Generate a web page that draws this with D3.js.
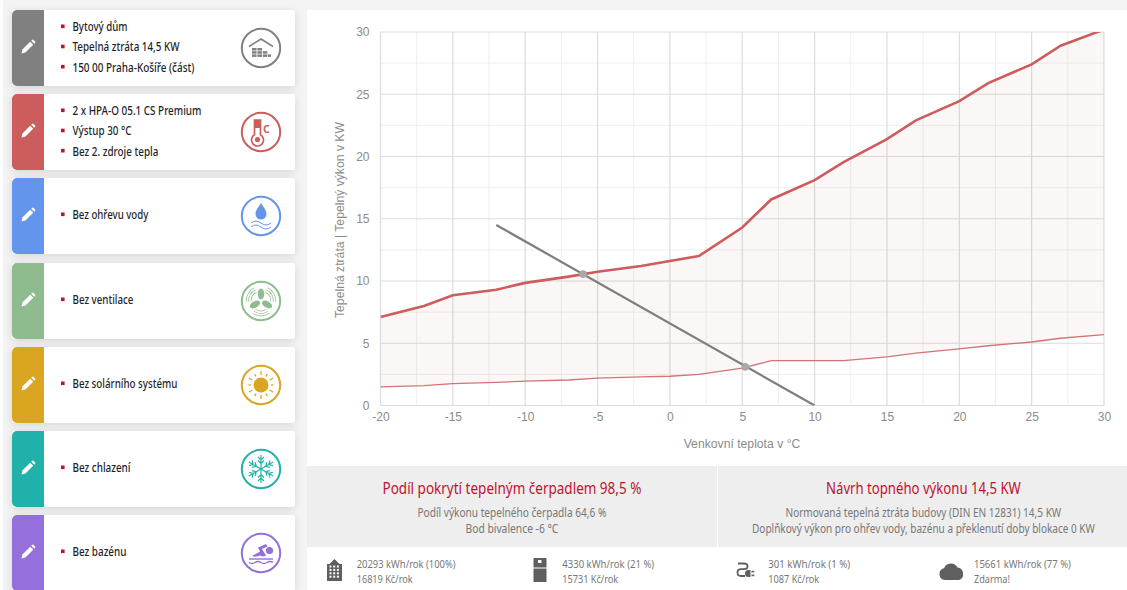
<!DOCTYPE html>
<html lang="cs">
<head>
<meta charset="utf-8">
<title>Tepelná ztráta a výkon</title>
<script src="https://cdn.jsdelivr.net/npm/d3@7/dist/d3.min.js"></script>
<style>
html,body{margin:0;padding:0;background:#fff;overflow:hidden}
svg{display:block}
text{font-family:"Noto Sans",sans-serif}
.tick-label{font-family:"Liberation Sans",Arial,sans-serif}
</style>
</head>
<body>
<svg id="page" width="1127" height="590"></svg>
<script>
// Outdoor temperature breakpoints of the two capacity curves
const temperatures = [-20,-17,-15,-12,-10,-7,-5,-2,0,2,5,7,10,12,15,17,20,22,25,27,30];
// Heat pump output at full and at minimum modulation, kW
const maxOutput = [7.1,8,8.85,9.3,9.85,10.35,10.75,11.2,11.6,12,14.3,16.55,18.1,19.55,21.4,22.9,24.45,25.9,27.4,28.9,30.2];
const minOutput = [1.5,1.6,1.75,1.85,1.95,2.05,2.2,2.3,2.35,2.5,3,3.6,3.6,3.6,3.9,4.2,4.55,4.8,5.1,5.4,5.7];
// Building heat loss line and its two crossing points
const lossTemps = [-12,10];
const lossValues = [14.5,0];
const crossTemps = [-6,5.2];
const crossValues = [10.55,3.1];
const xTicks = [-20,-15,-10,-5,0,5,10,15,20,25,30];
const xMinor = [-17.5,-12.5,-7.5,-2.5,2.5,7.5,12.5,17.5,22.5,27.5];
const yTicks = [0,5,10,15,20,25,30];
const yMinor = [2.5,7.5,12.5,17.5,22.5,27.5];

// Sidebar cards
const cardColors = ["#808080","#cd5c5c","#6495ed","#8fbc8f","#daa520","#20b2aa","#9370db"];
const cardLines = [
  ["Bytový dům","Tepelná ztráta 14,5 KW","150 00 Praha-Košíře (část)"],
  ["2 x HPA-O 05.1 CS Premium","Výstup 30 °C","Bez 2. zdroje tepla"],
  ["Bez ohřevu vody"],["Bez ventilace"],["Bez solárního systému"],["Bez chlazení"],["Bez bazénu"]
];
const cardLineWidths = [[55,107,122],[129,59,86],[76],[61],[105],[58],[54]];

// Summary panels
const summaryTitles = ["Podíl pokrytí tepelným čerpadlem 98,5 %","Návrh topného výkonu 14,5 KW"];
const summaryLines = [
  ["Podíl výkonu tepelného čerpadla 64,6 %","Bod bivalence -6 °C"],
  ["Normovaná tepelná ztráta budovy (DIN EN 12831) 14,5 KW","Doplňkový výkon pro ohřev vody, bazénu a překlenutí doby blokace 0 KW"]
];
const energyLines = [
  ["20293 kWh/rok (100%)","16819 Kč/rok"],
  ["4330 kWh/rok (21 %)","15731 Kč/rok"],
  ["301 kWh/rok (1 %)","1087 Kč/rok"],
  ["15661 kWh/rok (77 %)","Zdarma!"]
];

const svg = d3.select("#page");
svg.append("rect").attr("width",1127).attr("height",590).attr("fill","#f4f4f4");
svg.append("rect").attr("width",3).attr("height",590).attr("fill","#fdfdfd");
const defs = svg.append("defs");
const shadow = defs.append("filter").attr("id","cardShadow").attr("x","-10%").attr("y","-20%").attr("width","120%").attr("height","140%");
shadow.append("feDropShadow").attr("dx",0).attr("dy",2).attr("stdDeviation",4).attr("flood-color","#000").attr("flood-opacity",0.13);

// The UI face is condensed: each label is squeezed horizontally to its set width
function label(g,x,y,str,size,fill,width,anchor,weight){
  const t = g.append("text").attr("font-size",size).attr("fill",fill).text(str);
  if(weight) t.attr("font-weight",weight);
  const natural = t.node().getComputedTextLength();
  const k = width/natural;
  const left = anchor==="middle" ? x-width/2 : x;
  t.attr("transform",`translate(${left},${y}) scale(${k},1)`);
  return t;
}

// ---- Sidebar ----
const cardTop = d => Math.round(10 + d*84.17);
const pencil = "M-6.5 6.5 L-5.6 2.6 L2.2 -5.2 L5.2 -2.2 L-2.6 5.6 Z M3.2 -6.2 L4.4 -7.2 Q5 -7.6 5.6 -7.1 L7.1 -5.6 Q7.6 -5 7.2 -4.4 L6.2 -3.2 Z";

const iconDraw = [
  // house with stepped brick wall
  (g,c)=>{
    g.append("path").attr("d","M-12 -1.5 L0 -9 L12 -1.5").attr("fill","none").attr("stroke",c).attr("stroke-width",1.6);
    [[-9,0,4.6],[-3.6,0,4.6],[-9,3.2,4.6],[-3.6,3.2,4.6],[1.8,3.2,4.6],[-9,6.4,4.6],[-3.6,6.4,4.6],[1.8,6.4,4.6],[7,6.4,3]].forEach(b=>g.append("rect").attr("x",b[0]).attr("y",b[1]).attr("width",b[2]).attr("height",2.5).attr("fill",c));
  },
  // thermometer with degree C
  (g,c)=>{
    g.append("path").attr("d","M-6.5 -12 H-0.5 V2.8 a6 6 0 1 1 -6 0 Z").attr("fill","none").attr("stroke",c).attr("stroke-width",1.7);
    g.append("rect").attr("x",-6.5).attr("y",-12).attr("width",6).attr("height",8).attr("fill",c);
    g.append("circle").attr("cx",-3.5).attr("cy",7.5).attr("r",2.6).attr("fill",c);
    g.append("text").attr("x",2).attr("y",0.5).attr("font-size",10.5).attr("font-weight",700).attr("fill",c).text("C");
  },
  // droplet over waves
  (g,c)=>{
    g.append("path").attr("d","M0 -13 C3 -8 5.5 -5.5 5.5 -2 A5.5 5.5 0 0 1 -5.5 -2 C-5.5 -5.5 -3 -8 0 -13 Z").attr("fill",c);
    ["M-10 7 Q-5 3 0 7 T10 7","M-10 11 Q-5 7 0 11 T10 11"].forEach(d=>g.append("path").attr("d",d).attr("fill","none").attr("stroke",c).attr("stroke-width",1));
  },
  // fan with air arcs
  (g,c)=>{
    [0,120,240].forEach(a=>g.append("ellipse").attr("cx",0).attr("cy",-7).attr("rx",3.2).attr("ry",5.6).attr("transform",`rotate(${a})`).attr("fill",c));
    g.append("circle").attr("r",1.4).attr("fill","#fff");
    [60,180,300].forEach(a=>{
      [9.5,12,14.5].forEach(r=>{
        const arc = d3.arc()({innerRadius:r,outerRadius:r+0.7,startAngle:(a-34)*Math.PI/180,endAngle:(a+34)*Math.PI/180});
        g.append("path").attr("d",arc).attr("fill",c);
      });
    });
  },
  // sun
  (g,c)=>{
    g.append("circle").attr("r",7.5).attr("fill",c);
    d3.range(12).forEach(i=>g.append("line").attr("y1",-10).attr("y2",i%2?-12.5:-14).attr("transform",`rotate(${i*30})`).attr("stroke",c).attr("stroke-width",1.3));
  },
  // snowflake
  (g,c)=>{
    d3.range(6).forEach(i=>{
      const a = g.append("g").attr("transform",`rotate(${i*60})`);
      a.append("path").attr("d","M0 0 V-14 M-3 -12 L0 -9 L3 -12 M-3 -8.5 L0 -5.5 L3 -8.5").attr("fill","none").attr("stroke",c).attr("stroke-width",1.2);
    });
  },
  // swimmer
  (g,c)=>{
    g.append("circle").attr("cx",8.5).attr("cy",-2.5).attr("r",3.6).attr("fill",c);
    g.append("path").attr("d","M-9 3 L-1 -1.5 L-3 -5.5 L5 -9 L6.5 -6.5 L1 -4 L5 2.5 Q2 4.5 -1 2.5 Q-5 4.5 -9 3 Z").attr("fill",c);
    ["M-12 6 H12","M-12 9.5 Q-9 11.5 -6 9.5 T0 9.5 T6 9.5 T12 9.5"].forEach(d=>g.append("path").attr("d",d).attr("fill","none").attr("stroke",c).attr("stroke-width",1.4));
  }
];

cardLines.forEach((lines,i)=>{
  const g = svg.append("g").attr("transform",`translate(12,${cardTop(i)})`);
  const c = cardColors[i];
  g.append("rect").attr("width",283).attr("height",76).attr("rx",3).attr("fill","#fff").attr("filter","url(#cardShadow)");
  g.append("path").attr("d","M32 0 H5 a5 5 0 0 0 -5 5 V71 a5 5 0 0 0 5 5 H32 Z").attr("fill",c);
  g.append("path").attr("d",pencil).attr("transform","translate(16,37)").attr("fill","#fff");
  const step = 20.2;
  const startY = lines.length===3 ? 17 : 37;
  lines.forEach((s,k)=>{
    const y = startY + k*step;
    g.append("rect").attr("x",49).attr("y",y-2.5).attr("width",3.6).attr("height",3.6).attr("fill","#c0122f");
    label(g,60.5,y+4.2,s,12.5,"#1f1f2b",cardLineWidths[i][k],null,500);
  });
  const icon = g.append("g").attr("transform",`translate(249,38)`);
  icon.append("circle").attr("r",19.2).attr("fill","#fff").attr("stroke",c).attr("stroke-width",2);
  iconDraw[i](icon,c);
});

// ---- Chart panel ----
svg.append("rect").attr("x",307).attr("y",10).attr("width",820).attr("height",580).attr("fill","#fff");

const x = d3.scaleLinear().domain([-20,30]).range([380.5,1104]);
const y = d3.scaleLinear().domain([0,30]).range([405.5,32]);
const plot = svg.append("g");

// Minor then major grid
const grid = plot.append("g");
xMinor.forEach(v=>grid.append("line").attr("x1",x(v)).attr("x2",x(v)).attr("y1",y(30)).attr("y2",y(0)).attr("stroke","#efefef"));
yMinor.forEach(v=>grid.append("line").attr("x1",x(-20)).attr("x2",x(30)).attr("y1",y(v)).attr("y2",y(v)).attr("stroke","#efefef"));
xTicks.forEach(v=>grid.append("line").attr("x1",x(v)).attr("x2",x(v)).attr("y1",y(30)).attr("y2",y(0)).attr("stroke","#dcdcdc").attr("stroke-width",1.2));
yTicks.forEach(v=>grid.append("line").attr("x1",x(-20)).attr("x2",x(30)).attr("y1",y(v)).attr("y2",y(v)).attr("stroke","#dcdcdc").attr("stroke-width",1.2));

const clip = defs.append("clipPath").attr("id","plotClip");
clip.append("rect").attr("x",x(-20)).attr("y",y(30)).attr("width",x(30)-x(-20)).attr("height",y(0)-y(30));

const marks = plot.append("g").attr("clip-path","url(#plotClip)");
const band = d3.area().x((d,i)=>x(temperatures[i])).y0((d,i)=>y(minOutput[i])).y1(d=>y(d));
marks.append("path").attr("d",band(maxOutput)).attr("fill","#cd5c5c").attr("fill-opacity",0.05);
const curve = d3.line().x((d,i)=>x(temperatures[i])).y(d=>y(d));
marks.append("path").attr("d",curve(minOutput)).attr("fill","none").attr("stroke","#cd5c5c").attr("stroke-opacity",0.85).attr("stroke-width",1.3);
marks.append("path").attr("d",curve(maxOutput)).attr("fill","none").attr("stroke","#cd5c5c").attr("stroke-width",2.6);
const lossLine = d3.line().x((d,i)=>x(lossTemps[i])).y(d=>y(d));
marks.append("path").attr("d",lossLine(lossValues)).attr("fill","none").attr("stroke","#7d7d7d").attr("stroke-width",2.2);
crossTemps.forEach((t,i)=>marks.append("circle").attr("cx",x(t)).attr("cy",y(crossValues[i])).attr("r",3.8).attr("fill","#a9a9a9"));

// Axis labels
const xAxis = plot.append("g").attr("transform",`translate(0,${y(0)})`)
  .call(d3.axisBottom(x).tickValues(xTicks).tickSize(0).tickPadding(7).tickFormat(d=>d));
const yAxis = plot.append("g").attr("transform",`translate(${x(-20)},0)`)
  .call(d3.axisLeft(y).tickValues(yTicks).tickSize(0).tickPadding(11).tickFormat(d=>d));
[xAxis,yAxis].forEach(a=>{
  a.select(".domain").remove();
  a.selectAll("text").attr("class","tick-label").attr("font-size",12).attr("fill","#8b8b8b");
});
plot.append("text").attr("class","tick-label").attr("x",742).attr("y",448).attr("text-anchor","middle").attr("font-size",12.2).attr("fill","#8b8b8b").text("Venkovní teplota v °C");
plot.append("text").attr("class","tick-label").attr("transform","translate(344,220) rotate(-90)").attr("text-anchor","middle").attr("font-size",12.2).attr("fill","#8b8b8b").text("Tepelná ztráta | Tepelný výkon v KW");

// ---- Summary panels ----
const panels = [{x:307,w:410,cx:512,tw:259,lw:[189,93]},{x:718,w:409,cx:923.5,tw:195,lw:[276,343]}];
panels.forEach((p,i)=>{
  svg.append("rect").attr("x",p.x).attr("y",466).attr("width",p.w).attr("height",81).attr("fill","#eeeeee");
  label(svg,p.cx,494,summaryTitles[i],16,"#c0122f",p.tw,"middle",400);
  summaryLines[i].forEach((s,k)=>label(svg,p.cx,516.5+k*16,s,12.5,"#777777",p.lw[k],"middle",400));
});

// ---- Energy summary row ----
const energyX = [356.7,562.3,768.3,974];
const energyW = [[99,56],[92,56],[82,51],[97,36]];
const iconColor = "#5f5f5f";
energyLines.forEach((lines,i)=>{
  lines.forEach((s,k)=>label(svg,energyX[i],568+k*15,s,11.5,"#777777",energyW[i][k],null,400));
});
// Building
const b = svg.append("g").attr("transform","translate(334.5,570)");
b.append("path").attr("d","M-7.5 11 V-6 H-5 L0 -11 L5 -6 H7.5 V11 Z").attr("fill",iconColor);
d3.range(4).forEach(r=>d3.range(3).forEach(c=>b.append("rect").attr("x",-5+c*3.7).attr("y",-4.5+r*3.4).attr("width",2).attr("height",2).attr("fill","#fff")));
// Heat pump unit
const u = svg.append("g").attr("transform","translate(540,570)");
u.append("path").attr("d","M-6.5 -12 H6.5 V-2.5 H-6.5 Z M-6.5 -1.5 H6.5 V12 H-6.5 Z").attr("fill",iconColor);
u.append("rect").attr("x",-2).attr("y",-10).attr("width",3.5).attr("height",3).attr("fill","#fff");
// Plug
const pl = svg.append("g").attr("transform","translate(744,570)");
pl.append("path").attr("d","M-6 -6.5 H0 Q3.5 -6.5 3.5 -3.5 Q3.5 -0.8 0 -0.8 H-3 Q-6.5 -0.8 -6.5 2.5 Q-6.5 6 -3 6 H1").attr("fill","none").attr("stroke",iconColor).attr("stroke-width",1.8);
pl.append("path").attr("d","M1 3.5 a3.5 3.5 0 0 1 3.5 -3.5 H6.5 V7 H4.5 a3.5 3.5 0 0 1 -3.5 -3.5 Z").attr("fill",iconColor);
pl.append("rect").attr("x",7.5).attr("y",0.8).attr("width",2.8).attr("height",1.6).attr("fill",iconColor);
pl.append("rect").attr("x",7.5).attr("y",4.6).attr("width",2.8).attr("height",1.6).attr("fill",iconColor);
// Cloud
svg.append("path").attr("transform","translate(952,572)").attr("fill",iconColor)
  .attr("d","M-7 8 A6 6 0 0 1 -8 -3.8 A7.5 7.5 0 0 1 5.5 -4.5 A6.5 6.5 0 0 1 7 8 Z");
</script>
</body>
</html>
